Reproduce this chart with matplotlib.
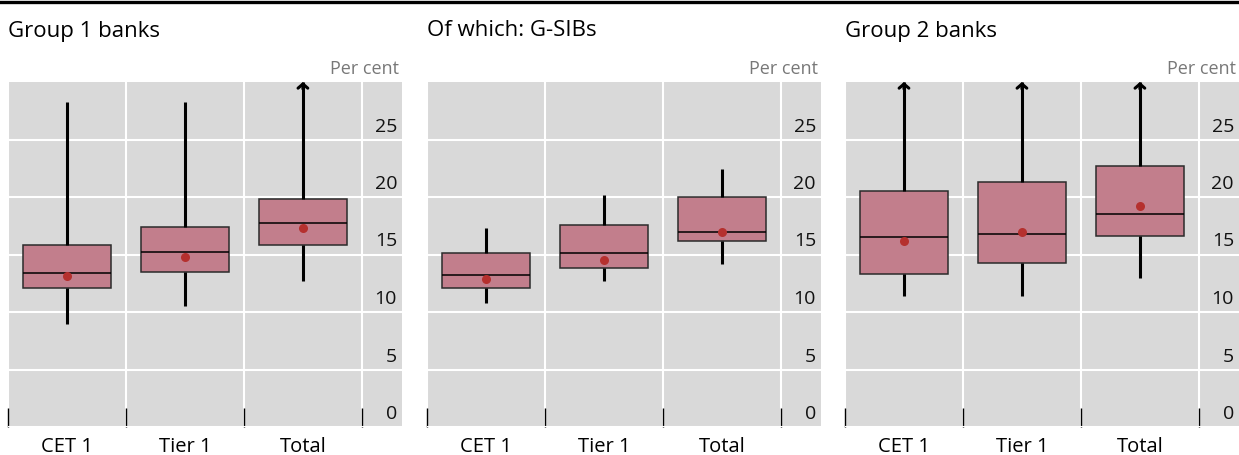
import matplotlib.pyplot as plt
import matplotlib.transforms as mtransforms
from matplotlib.lines import Line2D

plt.rcParams['font.family'] = ['Open Sans', 'DejaVu Sans']

titles = ['Group 1 banks', 'Of which: G-SIBs', 'Group 2 banks']
categories = ['CET 1', 'Tier 1', 'Total']

# whisker low, q1, median, q3, whisker high, mean (per cent); 31 = off the scale
whislo = [[9.0, 10.5, 12.7], [10.8, 12.7, 14.2], [11.4, 11.4, 13.0]]
q1 = [[12.1, 13.5, 15.8], [12.1, 13.8, 16.2], [13.3, 14.3, 16.6]]
med = [[13.4, 15.2, 17.7], [13.2, 15.1, 17.0], [16.5, 16.8, 18.5]]
q3 = [[15.8, 17.4, 19.8], [15.1, 17.6, 20.0], [20.5, 21.3, 22.7]]
whishi = [[28.3, 28.3, 31.0], [17.3, 20.2, 22.4], [31.0, 31.0, 31.0]]
means = [[13.1, 14.8, 17.3], [12.9, 14.5, 17.0], [16.2, 17.0, 19.2]]

yticks = [0, 5, 10, 15, 20, 25]
ymax = 30

W, H = 1239, 455
fig = plt.figure(figsize=(W / 100, H / 100), dpi=100)

box_color = '#c27e8c'
bg = '#d9d9d9'
lefts = [8, 427, 845]

for p in range(3):
    ax = fig.add_axes([lefts[p] / W, 28 / H, 394 / W, 345 / H])
    ax.set_facecolor(bg)
    for s in ax.spines.values():
        s.set_visible(False)

    stats = []
    for i in range(3):
        stats.append(dict(whislo=whislo[p][i], q1=q1[p][i], med=med[p][i], q3=q3[p][i],
                          whishi=min(whishi[p][i], ymax), mean=means[p][i], fliers=[]))
    ax.bxp(stats, positions=[0, 1, 2], widths=0.75, patch_artist=True,
           showcaps=False, showmeans=True, showfliers=False,
           boxprops=dict(facecolor=box_color, edgecolor='#2b2b2b', linewidth=1.1),
           medianprops=dict(color='black', linewidth=1.1),
           whiskerprops=dict(color='black', linewidth=2.2, solid_capstyle='butt'),
           meanprops=dict(marker='o', markerfacecolor='#b5302e', markeredgecolor='none', markersize=6.5),
           zorder=3)

    # arrow heads for values beyond the scale
    for i in range(3):
        if whishi[p][i] > ymax:
            ax.annotate('', xy=(i, ymax), xytext=(i, ymax - 0.6),
                        arrowprops=dict(arrowstyle='->,head_length=0.3,head_width=0.35', lw=2.2,
                                        color='black', mutation_scale=10, shrinkA=0, shrinkB=0),
                        annotation_clip=False, zorder=4)

    ax.set_xlim(-0.5, 2.84)
    ax.set_ylim(0, ymax)

    ax.set_yticks(yticks)
    ax.yaxis.set_tick_params(length=0, labelleft=False, labelright=False)
    ax.set_xticks([0, 1, 2])
    ax.set_xticklabels(categories, fontsize=14.5)
    ax.tick_params(axis='x', which='major', length=0, pad=7)
    ax.set_xticks([-0.5, 0.5, 1.5, 2.5], minor=True)
    ax.tick_params(axis='x', which='minor', length=14, width=1, direction='in', color='black')
    ax.grid(True, axis='y', color='white', linewidth=1.5, zorder=0)
    ax.grid(True, axis='x', which='minor', color='white', linewidth=1.5, zorder=0)
    ax.set_axisbelow(True)

    tr = mtransforms.blended_transform_factory(ax.transAxes, ax.transData)
    tr = mtransforms.offset_copy(tr, fig=fig, x=-5, y=4, units='dots')
    for v in yticks:
        ax.text(1, v, str(v), transform=tr, ha='right', va='bottom', fontsize=14, color='#111111')
    ax.text(0.992, 1.0, 'Per cent', transform=mtransforms.offset_copy(ax.transAxes, fig=fig, y=4, units='dots'),
            ha='right', va='bottom', fontsize=13, color='#787878')

    fig.text(lefts[p] / W, 1 - 31 / H, titles[p], ha='left', va='center', fontsize=16)

fig.add_artist(Line2D([0, 1], [1 - 2 / H, 1 - 2 / H], color='black', linewidth=2.4,
                      transform=fig.transFigure))

fig.savefig('out.png', dpi=100)
